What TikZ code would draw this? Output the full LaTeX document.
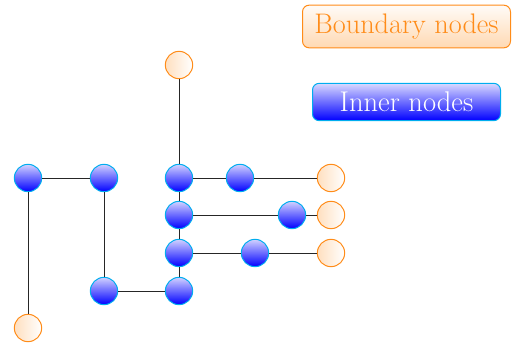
\documentclass[tikz,border=0pt]{standalone}
\usetikzlibrary{shadings}
\begin{document}
\begin{tikzpicture}[x=0.75pt,y=-0.75pt,
  inner/.style={circle,draw=cyan,line width=0.75pt,minimum size=20.5pt,inner sep=0pt,top color=blue!18,bottom color=blue},
  bnd/.style={circle,draw=orange!90,line width=0.75pt,minimum size=20.5pt,inner sep=0pt,left color=orange!25,right color=white},
  edge/.style={draw=black!85,line width=0.7pt},
  legb/.style={rounded corners=5pt,draw=orange!90,line width=0.75pt,top color=orange!3,bottom color=orange!30,text=orange!90,font=\fontsize{21.2}{25}\selectfont,minimum width=156pt,minimum height=32pt,inner sep=0pt},
  legi/.style={rounded corners=5pt,draw=cyan,line width=0.75pt,top color=blue!15,bottom color=blue,text=white,font=\fontsize{21.4}{25}\selectfont,minimum width=141pt,minimum height=28pt,inner sep=0pt}]
\useasboundingbox (0,0) rectangle (512,346);
% inner nodes
\node[inner] (a1) at (28,178) {};
\node[inner] (a2) at (104,178) {};
\node[inner] (a3) at (179,178) {};
\node[inner] (a4) at (240,178) {};
\node[inner] (b1) at (179,215) {};
\node[inner] (b2) at (292,215) {};
\node[inner] (c1) at (179,253) {};
\node[inner] (c2) at (255,253) {};
\node[inner] (d1) at (104,291) {};
\node[inner] (d2) at (179,291) {};
% boundary nodes
\node[bnd] (t) at (179,65) {};
\node[bnd] (ra) at (331,178) {};
\node[bnd] (rb) at (331,215) {};
\node[bnd] (rc) at (331,253) {};
\node[bnd] (bl) at (28,328) {};
% edges
\draw[edge] (a1) -- (a2);
\draw[edge] (a1) -- (bl);
\draw[edge] (a2) -- (d1);
\draw[edge] (d1) -- (d2);
\draw[edge] (d2) -- (c1);
\draw[edge] (c1) -- (b1);
\draw[edge] (b1) -- (a3);
\draw[edge] (a3) -- (t);
\draw[edge] (a3) -- (a4);
\draw[edge] (a4) -- (ra);
\draw[edge] (b1) -- (b2);
\draw[edge] (b2) -- (rb);
\draw[edge] (c1) -- (c2);
\draw[edge] (c2) -- (rc);
% legend
\node[legb] (lb) at (406.5,26.5) {Boundary nodes};
\node[legi] (li) at (406.5,102) {Inner nodes};
\end{tikzpicture}
\end{document}
